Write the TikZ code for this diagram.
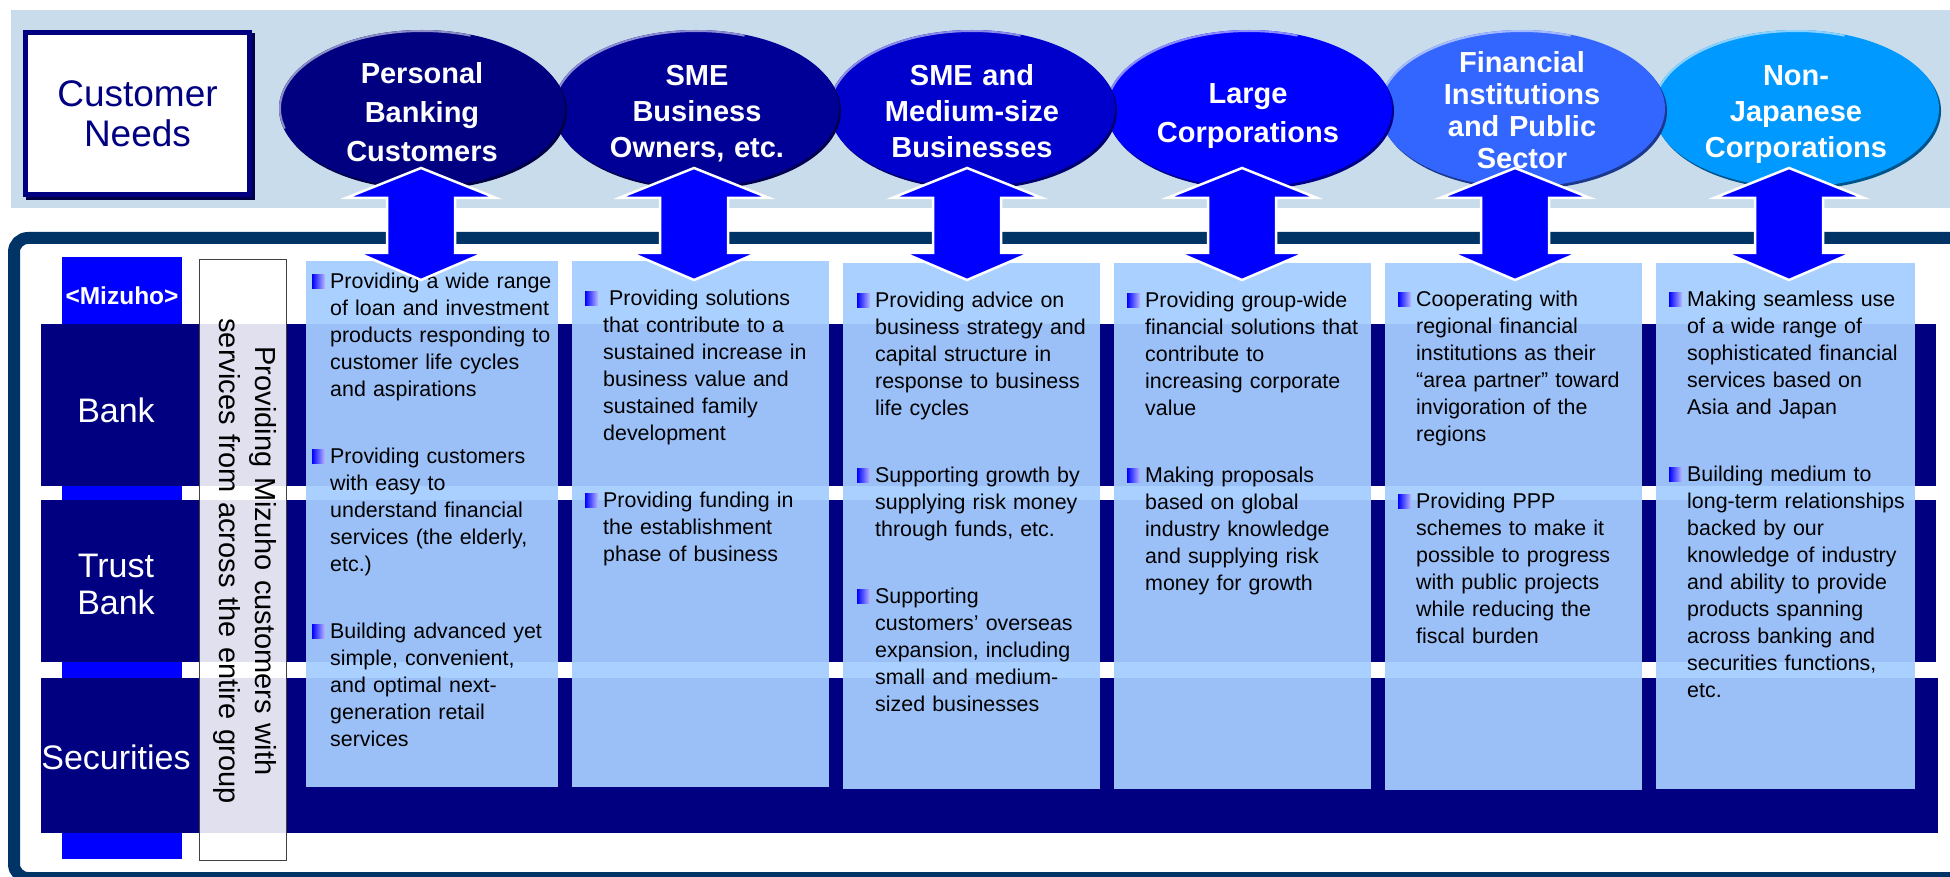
\documentclass[tikz,border=0pt]{standalone}
\usepackage{fontspec}
\setmainfont{Liberation Sans}
\usetikzlibrary{shapes.geometric}
\definecolor{strip}{RGB}{201,220,235}
\definecolor{framecol}{RGB}{0,51,102}
\definecolor{navyrow}{RGB}{0,0,128}
\definecolor{navydark}{RGB}{0,0,70}
\definecolor{pureblue}{RGB}{0,0,255}
\definecolor{bulletmid}{RGB}{70,70,255}
\definecolor{bulletend}{RGB}{185,185,255}
\definecolor{cboxcol}{RGB}{165,205,255}
\definecolor{ellA}{RGB}{0,0,128}
\definecolor{ellB}{RGB}{0,0,150}
\definecolor{ellC}{RGB}{0,0,204}
\definecolor{ellD}{RGB}{0,0,255}
\definecolor{ellE}{RGB}{51,102,255}
\definecolor{ellF}{RGB}{0,153,255}
\tikzset{
  bodytxt/.style={font=\fontsize{21.4pt}{27pt}\selectfont, text=black, text width=250pt, align=left, inner sep=0pt, anchor=base west},
  elltxt/.style={font=\bfseries\fontsize{29pt}{#1}\selectfont, text=white, text width=280pt, align=center, inner sep=0pt, anchor=base},
  rowtxt/.style={font=\fontsize{34pt}{37pt}\selectfont, text=white, text width=160pt, align=center, inner sep=0pt, anchor=base},
  colbox/.style={rectangle, fill=cboxcol, fill opacity=0.94, draw=none, inner sep=0pt, anchor=north west},
  bigarrow/.style={fill=pureblue, draw=white, line width=2.5pt, line join=miter},
  bulletsq/.style={left color=pureblue, middle color=bulletmid, right color=bulletend}
}
\newcommand\mypara[4]{%
  \shade[bulletsq] (#2-18,#3-14.5) rectangle ++(13,14);
  \node[bodytxt] (#1) at (#2,#3) {#4};}
\newcommand\myell[3]{%
  \fill[#3!55!black] (#2+2,111) ellipse[x radius=143, y radius=78.5];
  \node[ellipse, fill=#3, minimum width=286pt, minimum height=157pt, inner sep=0pt] (#1) at (#2,108.5) {};
  \draw[#3!45!white, line width=2pt] (#2,108.5) ++(165:142 and 77.5) arc[start angle=165, end angle=290, x radius=142, y radius=77.5];}
\begin{document}
\begin{tikzpicture}[x=1pt,y=-1pt]
\useasboundingbox (0,0) rectangle (1950,877);
% top strip
\fill[strip] (11,10) rectangle (1950,208);
% customer needs box
\fill[navydark] (26,33) rectangle (255,200);
\node[draw=navyrow, line width=5pt, fill=white, minimum width=224pt, minimum height=162pt, inner sep=0pt] (needs) at (137.5,113.5) {};
\node[font=\fontsize{37pt}{40pt}\selectfont, text=navyrow, text width=220pt, align=center, inner sep=0pt, anchor=base] (needst) at (137.5,106.2) {Customer\\Needs};
% ellipses (right to left)
\myell{e6}{1796}{ellF}
\myell{e5}{1522}{ellE}
\myell{e4}{1249}{ellD}
\myell{e3}{972}{ellC}
\myell{e2}{696}{ellB}
\myell{e1}{422}{ellA}
\node[elltxt=39pt] (t1) at (422,83.4) {Personal\\Banking\\Customers};
\node[elltxt=36pt] (t2) at (697,85.4) {SME\\Business\\Owners, etc.};
\node[elltxt=36pt] (t3) at (972,85.4) {SME and\\Medium-size\\Businesses};
\node[elltxt=39pt] (t4) at (1248,103.4) {Large\\Corporations};
\node[elltxt=32pt] (t5) at (1522,72.4) {Financial\\Institutions\\and Public\\Sector};
\node[elltxt=36pt] (t6) at (1796,85.4) {Non-\\Japanese\\Corporations};
% frame
\draw[framecol, line width=12pt, rounded corners=14pt] (14,238) rectangle (1975,878);
% blue column and rows
\fill[pureblue] (62,257) rectangle (182,859);
\node[font=\bfseries\fontsize{24.5pt}{28pt}\selectfont, text=white, inner sep=0pt, anchor=base] (miz) at (122,304) {<Mizuho>};
\fill[navyrow] (41,324) rectangle (1936,486);
\fill[navyrow] (41,500) rectangle (1936,662);
\fill[navyrow] (41,678) rectangle (1938,833);
\node[rowtxt] (bank) at (116,422) {Bank};
\node[rowtxt] (trust) at (116,577) {Trust\\Bank};
\node[rowtxt] (sec) at (116,769) {Securities};
% vertical box
\node[rectangle, draw=black!75, line width=1.5pt, fill=white, fill opacity=0.88, minimum width=87pt, minimum height=601pt, inner sep=0pt] (vbox) at (243,560) {};
\node[font=\fontsize{29pt}{36pt}\selectfont, text=black, text width=520pt, align=center, inner sep=0pt, rotate=-90] (vtxt) at (245,561) {Providing Mizuho customers with\\services from across the entire group};
% content columns
\node[colbox, minimum width=252pt, minimum height=526pt] (c1) at (306,261) {};
\node[colbox, minimum width=257pt, minimum height=526pt] (c2) at (572,261) {};
\node[colbox, minimum width=257pt, minimum height=526pt] (c3) at (843,263) {};
\node[colbox, minimum width=257pt, minimum height=526pt] (c4) at (1114,263) {};
\node[colbox, minimum width=257pt, minimum height=527pt] (c5) at (1385,263) {};
\node[colbox, minimum width=259pt, minimum height=526pt] (c6) at (1656,263) {};
% column texts
\mypara{p11}{330}{288.6}{Providing a wide range\\of loan and investment\\products responding to\\customer life cycles\\and aspirations}
\mypara{p12}{330}{463.6}{Providing customers\\with easy to\\understand financial\\services (the elderly,\\etc.)}
\mypara{p13}{330}{638.6}{Building advanced yet\\simple, convenient,\\and optimal next-\\generation retail\\services}
\mypara{p21}{603}{305.6}{\hspace*{6pt}Providing solutions\\that contribute to a\\sustained increase in\\business value and\\sustained family\\development}
\mypara{p22}{603}{507.6}{Providing funding in\\the establishment\\phase of business}
\mypara{p31}{875}{307.6}{Providing advice on\\business strategy and\\capital structure in\\response to business\\life cycles}
\mypara{p32}{875}{482.6}{Supporting growth by\\supplying risk money\\through funds, etc.}
\mypara{p33}{875}{603.6}{Supporting\\customers’ overseas\\expansion, including\\small and medium-\\sized businesses}
\mypara{p41}{1145}{307.6}{Providing group-wide\\financial solutions that\\contribute to\\increasing corporate\\value}
\mypara{p42}{1145}{482.6}{Making proposals\\based on global\\industry knowledge\\and supplying risk\\money for growth}
\mypara{p51}{1416}{306.6}{Cooperating with\\regional financial\\institutions as their\\“area partner” toward\\invigoration of the\\regions}
\mypara{p52}{1416}{508.6}{Providing PPP\\schemes to make it\\possible to progress\\with public projects\\while reducing the\\fiscal burden}
\mypara{p61}{1687}{306.6}{Making seamless use\\of a wide range of\\sophisticated financial\\services based on\\Asia and Japan}
\mypara{p62}{1687}{481.6}{Building medium to\\long-term relationships\\backed by our\\knowledge of industry\\and ability to provide\\products spanning\\across banking and\\securities functions,\\etc.}
% double arrows
\foreach \ax in {421,694,967,1242,1515,1789}{
  \filldraw[bigarrow] (\ax,168) -- (\ax+75,198) -- (\ax+34,198) -- (\ax+34,253) -- (\ax+63,253) -- (\ax,280) -- (\ax-63,253) -- (\ax-34,253) -- (\ax-34,198) -- (\ax-75,198) -- cycle;
}
\end{tikzpicture}
\end{document}
